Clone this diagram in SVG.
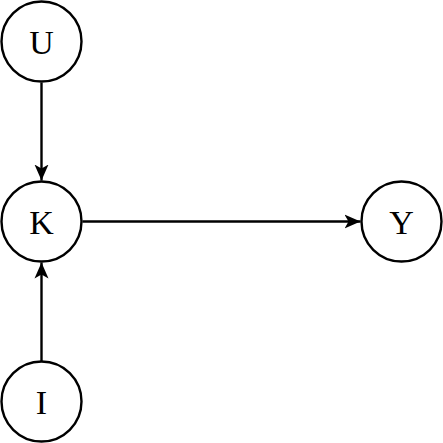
<svg xmlns="http://www.w3.org/2000/svg" width="443" height="443" viewBox="0 0 443 443">
<style>
.node circle{fill:#fff;stroke:#000;stroke-width:2.4}
.node text{font-family:"Liberation Serif",serif;font-size:34px;text-anchor:middle;dominant-baseline:central;fill:#000}
.edge{stroke:#000;stroke-width:2.4;fill:none;marker-end:url(#ah)}
</style>
<defs>
<marker id="ah" markerUnits="userSpaceOnUse" markerWidth="18" markerHeight="16" refX="16" refY="8" orient="auto">
<path d="M0,1 L16,8 L0,15 L4,8 Z" fill="#000"/>
</marker>
</defs>
<g id="connectors">
<line class="edge" x1="41.5" y1="82.5" x2="41.5" y2="180.5"/>
<line class="edge" x1="82.5" y1="221.5" x2="360.5" y2="221.5"/>
<line class="edge" x1="41.5" y1="361.5" x2="41.5" y2="262.5"/>
</g>
<g id="U" class="node"><circle cx="41.5" cy="41.5" r="40"/><text x="41.5" y="42.5">U</text></g>
<g id="K" class="node"><circle cx="41.5" cy="221.5" r="40"/><text x="41.5" y="222.5">K</text></g>
<g id="Y" class="node"><circle cx="401.5" cy="221.5" r="40"/><text x="401.5" y="222.5">Y</text></g>
<g id="I" class="node"><circle cx="41.5" cy="401.5" r="40"/><text x="41.5" y="402.5">I</text></g>
</svg>
